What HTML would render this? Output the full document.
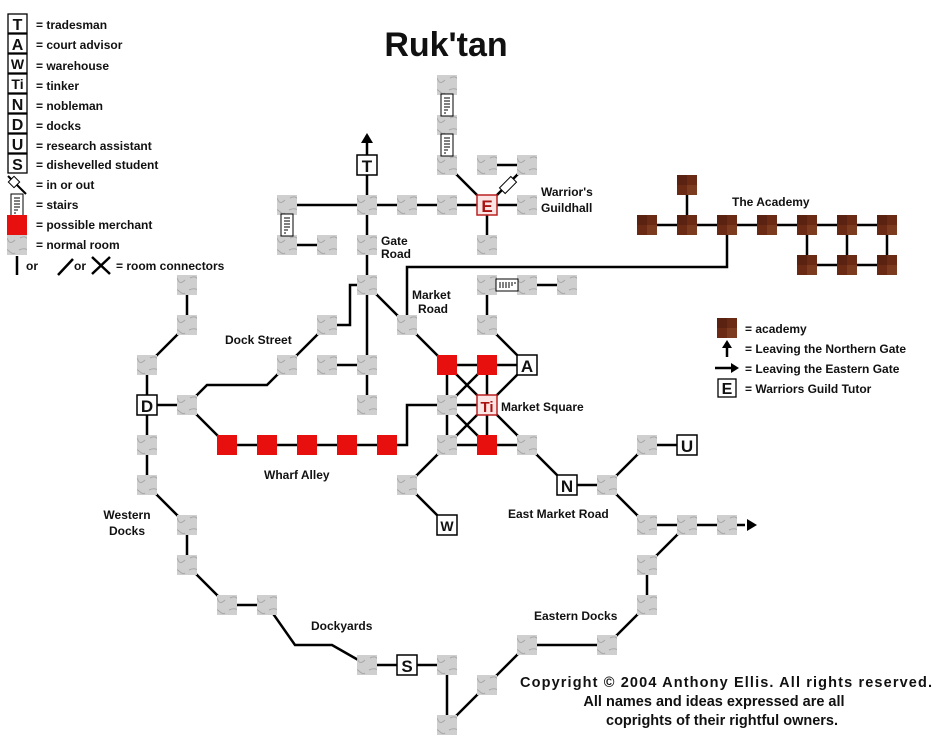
<!DOCTYPE html>
<html><head><meta charset="utf-8"><style>
body{margin:0;background:#fff;width:938px;height:739px;overflow:hidden}
svg text{font-family:"Liberation Sans",sans-serif;font-weight:bold;fill:#111}
</style></head><body>
<svg width="938" height="739" viewBox="0 0 938 739" xmlns="http://www.w3.org/2000/svg">
<defs>
<pattern id="st" width="20" height="20" patternUnits="userSpaceOnUse">
<rect width="20" height="20" fill="#cfcfcf"/>
<path d="M2 5 Q8 2 12 6 T18 8 M3 13 Q9 10 11 15 T18 15" stroke="#a8a8a8" fill="none" stroke-width="1"/>
</pattern>
<pattern id="br" width="20" height="20" patternUnits="userSpaceOnUse">
<rect width="20" height="20" fill="#6b2a14"/>
<rect x="0" y="0" width="10" height="10" fill="#7c3a1e"/>
<rect x="10" y="10" width="10" height="10" fill="#5a2210"/>
</pattern>
<g id="r"><rect x="-10" y="-10" width="20" height="20" fill="url(#st)"/></g>
<g id="b"><rect x="-10" y="-10" width="20" height="20" fill="url(#br)"/></g>
<g id="m"><rect x="-10" y="-10" width="20" height="20" fill="#e8100f"/></g>
<g id="sv"><rect x="-6" y="-11" width="12" height="22" fill="#fff" stroke="#000" stroke-width="1"/><path d="M-3 -7h6M-3 -4h6M-3 -1h6M-3 2h6M-3 5h4M-3 8h2" stroke="#000"/></g>
<g id="sh"><rect x="-11" y="-6" width="22" height="12" fill="#fff" stroke="#000" stroke-width="1"/><path d="M-7 -3v6M-4 -3v6M-1 -3v6M2 -3v6M5 -3v4M8 -3v2" stroke="#000"/></g>
</defs>

<g stroke="#000" stroke-width="2.5" fill="none">
<path d="M367 135V285M287 205H527M447 85V165M447 165L487 205M487 205V245M487 165H527M487 205L527 165M287 205V245M287 245H327"/>
<path d="M367 285H350V325H327M367 285L447 365M367 285V365M327 365H367M367 365V405"/>
<path d="M407 325V267H727V225"/>
<path d="M487 285H567M487 285V325L527 365"/>
<path d="M447 365H527M447 405H487M447 445H527M447 365V445M487 365V445M447 365L527 445M487 365L447 405M447 405L487 445M487 405L447 445M527 365L487 405"/>
<path d="M447 405H407V445H227"/>
<path d="M447 445L407 485L447 525"/>
<path d="M527 445L567 485H607L647 445H687M607 485L647 525H745M687 525L647 565V605L607 645H527L447 725V665H367M367 665L332 645H295L267 605H227L187 565V525L147 485V365L187 325V285M147 405H187M187 405L207 385H267L287 365L327 325"/>
<path d="M187 405L227 445"/>
<path d="M647 225H887M687 185V225M807 225V265M847 225V265M887 225V265M807 265H887"/>
</g>
<path d="M367 133l-6 10h12z" fill="#000"/>
<path d="M757 525l-10 -6v12z" fill="#000"/>
<g transform="translate(508,185) rotate(-45)"><rect x="-8" y="-4" width="16" height="8" fill="#fff" stroke="#000" stroke-width="1"/></g>

<g>
<use href="#r" x="447" y="85"/><use href="#r" x="447" y="125"/><use href="#r" x="447" y="165"/><use href="#r" x="487" y="165"/><use href="#r" x="527" y="165"/>
<use href="#r" x="287" y="205"/><use href="#r" x="367" y="205"/><use href="#r" x="407" y="205"/><use href="#r" x="447" y="205"/><use href="#r" x="527" y="205"/>
<use href="#r" x="287" y="245"/><use href="#r" x="327" y="245"/><use href="#r" x="367" y="245"/><use href="#r" x="487" y="245"/>
<use href="#r" x="367" y="285"/><use href="#r" x="487" y="285"/><use href="#r" x="527" y="285"/><use href="#r" x="567" y="285"/>
<use href="#r" x="327" y="325"/><use href="#r" x="407" y="325"/><use href="#r" x="487" y="325"/>
<use href="#r" x="287" y="365"/><use href="#r" x="327" y="365"/><use href="#r" x="367" y="365"/><use href="#r" x="367" y="405"/>
<use href="#r" x="447" y="405"/><use href="#r" x="447" y="445"/><use href="#r" x="527" y="445"/><use href="#r" x="407" y="485"/>
<use href="#r" x="187" y="285"/><use href="#r" x="187" y="325"/><use href="#r" x="147" y="365"/><use href="#r" x="187" y="405"/>
<use href="#r" x="147" y="445"/><use href="#r" x="147" y="485"/><use href="#r" x="187" y="525"/><use href="#r" x="187" y="565"/>
<use href="#r" x="227" y="605"/><use href="#r" x="267" y="605"/><use href="#r" x="367" y="665"/><use href="#r" x="447" y="665"/>
<use href="#r" x="447" y="725"/><use href="#r" x="487" y="685"/><use href="#r" x="527" y="645"/><use href="#r" x="607" y="645"/>
<use href="#r" x="647" y="605"/><use href="#r" x="647" y="565"/><use href="#r" x="647" y="525"/><use href="#r" x="687" y="525"/><use href="#r" x="727" y="525"/>
<use href="#r" x="607" y="485"/><use href="#r" x="647" y="445"/>
<use href="#m" x="227" y="445"/><use href="#m" x="267" y="445"/><use href="#m" x="307" y="445"/><use href="#m" x="347" y="445"/><use href="#m" x="387" y="445"/>
<use href="#m" x="447" y="365"/><use href="#m" x="487" y="365"/><use href="#m" x="487" y="445"/>
<use href="#b" x="687" y="185"/><use href="#b" x="647" y="225"/><use href="#b" x="687" y="225"/><use href="#b" x="727" y="225"/><use href="#b" x="767" y="225"/><use href="#b" x="807" y="225"/><use href="#b" x="847" y="225"/><use href="#b" x="887" y="225"/>
<use href="#b" x="807" y="265"/><use href="#b" x="847" y="265"/><use href="#b" x="887" y="265"/>
<use href="#sv" x="447" y="105"/><use href="#sv" x="447" y="145"/><use href="#sv" x="287" y="225"/><use href="#sh" x="507" y="285"/>
</g>
<g font-size="17" text-anchor="middle">
<rect x="357" y="155" width="20" height="20" fill="#fff" stroke="#000" stroke-width="1.5"/><text x="367" y="172" font-weight="normal">T</text>
<rect x="477" y="195" width="20" height="20" fill="#fbe4e4" stroke="#b22" stroke-width="1.5"/><text x="487" y="212" font-weight="normal" style="fill:#a11">E</text>
<rect x="517" y="355" width="20" height="20" fill="#fff" stroke="#000" stroke-width="1.5"/><text x="527" y="372">A</text>
<rect x="477" y="395" width="20" height="20" fill="#fbe4e4" stroke="#b22" stroke-width="1.5"/><text x="487" y="412" font-weight="normal" style="fill:#a11" font-size="15">Ti</text>
<rect x="137" y="395" width="20" height="20" fill="#fff" stroke="#000" stroke-width="1.5"/><text x="147" y="412">D</text>
<rect x="557" y="475" width="20" height="20" fill="#fff" stroke="#000" stroke-width="1.5"/><text x="567" y="492" font-weight="normal">N</text>
<rect x="677" y="435" width="20" height="20" fill="#fff" stroke="#000" stroke-width="1.5"/><text x="687" y="452">U</text>
<rect x="437" y="515" width="20" height="20" fill="#fff" stroke="#000" stroke-width="1.5"/><text x="447" y="531" font-size="14">W</text>
<rect x="397" y="655" width="20" height="20" fill="#fff" stroke="#000" stroke-width="1.5"/><text x="407" y="672" font-weight="normal">S</text>
</g>

<text x="446" y="56" font-size="34" text-anchor="middle" font-weight="normal">Ruk'tan</text>
<g font-size="12">
<text x="541" y="196">Warrior's</text><text x="541" y="212">Guildhall</text>
<text x="732" y="206">The Academy</text>
<text x="381" y="245">Gate</text><text x="381" y="258">Road</text>
<text x="412" y="299">Market</text><text x="418" y="313">Road</text>
<text x="225" y="344">Dock Street</text>
<text x="501" y="411">Market Square</text>
<text x="264" y="479">Wharf Alley</text>
<text x="127" y="519" text-anchor="middle">Western</text><text x="127" y="535" text-anchor="middle">Docks</text>
<text x="508" y="518">East Market Road</text>
<text x="311" y="630">Dockyards</text>
<text x="534" y="620">Eastern Docks</text>
</g>
<g font-size="14.5" text-anchor="middle">
<text x="726" y="687" textLength="412">Copyright © 2004 Anthony Ellis. All rights reserved.</text>
<text x="714" y="706">All names and ideas expressed are all</text>
<text x="722" y="725">coprights of their rightful owners.</text>
</g>

<g font-size="16" text-anchor="middle" font-weight="normal">
<g fill="#fff" stroke="#000" stroke-width="1.3">
<rect x="8" y="14" width="19" height="19"/><rect x="8" y="34" width="19" height="19"/><rect x="8" y="54" width="19" height="19"/><rect x="8" y="74" width="19" height="19"/><rect x="8" y="94" width="19" height="19"/><rect x="8" y="114" width="19" height="19"/><rect x="8" y="134" width="19" height="19"/><rect x="8" y="154" width="19" height="19"/>
</g>
<text x="17.5" y="30">T</text><text x="17.5" y="50" font-weight="bold">A</text><text x="17.5" y="69" font-size="14">W</text><text x="17.5" y="89" font-size="14">Ti</text><text x="17.5" y="110">N</text><text x="17.5" y="130" font-weight="bold">D</text><text x="17.5" y="150" font-weight="bold">U</text><text x="17.5" y="170">S</text>
</g>
<path d="M8 176L26 194" stroke="#000" stroke-width="2"/>
<g transform="translate(14,182) rotate(45)"><rect x="-4" y="-4" width="8" height="8" fill="#fff" stroke="#000"/></g>
<use href="#sv" x="17" y="205"/>
<use href="#m" x="17" y="225"/>
<use href="#r" x="17" y="245"/>
<path d="M17 256V275M58 275L73 259M92 257L110 274M110 257L92 274" stroke="#000" stroke-width="2.5"/>
<g font-size="12">
<text x="36" y="29">= tradesman</text><text x="36" y="49">= court advisor</text><text x="36" y="70">= warehouse</text><text x="36" y="90">= tinker</text><text x="36" y="110">= nobleman</text><text x="36" y="130">= docks</text><text x="36" y="150">= research assistant</text><text x="36" y="169">= dishevelled student</text><text x="36" y="189">= in or out</text><text x="36" y="209">= stairs</text><text x="36" y="229">= possible merchant</text><text x="36" y="249">= normal room</text>
<text x="26" y="270">or</text><text x="74" y="270">or</text><text x="116" y="270">= room connectors</text>
</g>
<use href="#b" x="727" y="328"/>
<path d="M727 357V342" stroke="#000" stroke-width="2.5"/><path d="M727 340l-5 8h10z"/>
<path d="M715 368H735" stroke="#000" stroke-width="2.5"/><path d="M739 368l-8 -5v10z"/>
<rect x="718" y="379" width="18" height="18" fill="#fff" stroke="#000" stroke-width="1.3"/><text x="727" y="394" font-size="16" text-anchor="middle" font-weight="normal">E</text>
<g font-size="12">
<text x="745" y="333">= academy</text><text x="745" y="353">= Leaving the Northern Gate</text><text x="745" y="373">= Leaving the Eastern Gate</text><text x="745" y="393">= Warriors Guild Tutor</text>
</g>
</svg>
</body></html>
